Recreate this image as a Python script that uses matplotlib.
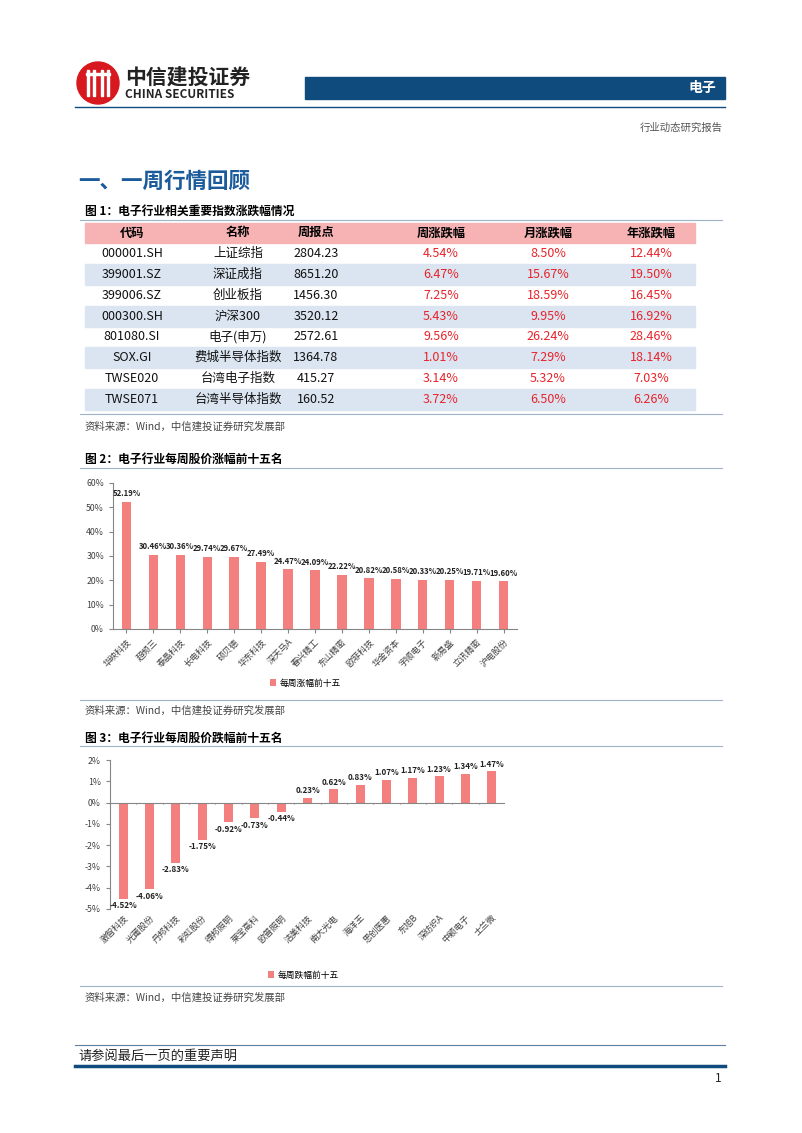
import matplotlib
matplotlib.use('Agg')
import matplotlib.pyplot as plt
from matplotlib.patches import Rectangle, Circle

plt.rcParams['font.family'] = ['Noto Sans CJK SC', 'DejaVu Sans']
plt.rcParams['axes.unicode_minus'] = False

# 表1 数据
codes = ['000001.SH', '399001.SZ', '399006.SZ', '000300.SH', '801080.SI', 'SOX.GI', 'TWSE020', 'TWSE071']
names = ['上证综指', '深证成指', '创业板指', '沪深300', '电子(申万)', '费城半导体指数', '台湾电子指数', '台湾半导体指数']
points = ['2804.23', '8651.20', '1456.30', '3520.12', '2572.61', '1364.78', '415.27', '160.52']
week_chg = ['4.54%', '6.47%', '7.25%', '5.43%', '9.56%', '1.01%', '3.14%', '3.72%']
month_chg = ['8.50%', '15.67%', '18.59%', '9.95%', '26.24%', '7.29%', '5.32%', '6.50%']
year_chg = ['12.44%', '19.50%', '16.45%', '16.92%', '28.46%', '18.14%', '7.03%', '6.26%']
headers = ['代码', '名称', '周报点', '周涨跌幅', '月涨跌幅', '年涨跌幅']

# 图2 涨幅前十五
up_names = ['华映科技', '超频三', '泰晶科技', '长电科技', '硕贝德', '华东科技', '深天马A', '春兴精工',
            '东山精密', '欧菲科技', '华金资本', '宇顺电子', '新易盛', '立讯精密', '沪电股份']
up_vals = [52.19, 30.46, 30.36, 29.74, 29.67, 27.49, 24.47, 24.09, 22.22, 20.82, 20.58, 20.33, 20.25, 19.71, 19.60]

# 图3 跌幅前十五
down_names = ['激智科技', '光莆股份', '丹邦科技', '彩虹股份', '得邦照明', '莱宝高科', '欧普照明', '洁美科技',
              '南大光电', '海洋王', '思创医惠', '东旭B', '深纺织A', '中颖电子', '士兰微']
down_vals = [-4.52, -4.06, -2.83, -1.75, -0.92, -0.73, -0.44, 0.23, 0.62, 0.83, 1.07, 1.17, 1.23, 1.34, 1.47]

W, H = 802, 1133
BLUE = '#0f4c7d'
BAR = '#f47f7f'
RED = '#e8232a'

fig = plt.figure(figsize=(W / 100, H / 100), dpi=100)
page = fig.add_axes([0, 0, 1, 1])
page.set_xlim(0, W)
page.set_ylim(H, 0)
page.axis('off')


def box(x0, y0, x1, y1):
    return [x0 / W, 1 - y1 / H, (x1 - x0) / W, (y1 - y0) / H]


# 页眉
page.add_patch(Circle((98, 83), 21, color='#d7191f'))
for dx in [-10, -4, 4, 10]:
    page.add_patch(Rectangle((98 + dx - 1.2, 70), 2.4, 26, color='white'))
page.add_patch(Rectangle((86, 73), 24, 2.2, color='white'))
page.text(125, 77, '中信建投证券', fontsize=15, fontweight='bold', color='#222222', va='center')
page.text(125, 95, 'CHINA SECURITIES', fontsize=8.5, fontweight='bold', color='#222222', va='center')
page.add_patch(Rectangle((305, 77), 420, 22, color=BLUE))
page.text(716, 88, '电子', fontsize=10, fontweight='bold', color='white', va='center', ha='right')
page.plot([75, 725], [107, 107], color=BLUE, lw=1)
page.text(723, 128, '行业动态研究报告', fontsize=7.5, color='#555555', va='center', ha='right')

page.text(78, 181, '一、一周行情回顾', fontsize=15.5, fontweight='bold', color='#1b5a9b', va='center')

# 图1 表格
page.text(85, 211, '图 1：电子行业相关重要指数涨跌幅情况', fontsize=8.5, fontweight='bold', va='center')
page.plot([80, 722], [220, 220], color='#9fb3c8', lw=0.8)
col_x = [132, 238, 316, 441, 548, 651]
row_h = 20.8
y0 = 222.5
page.add_patch(Rectangle((85, y0), 610, row_h, color='#f7b3b4'))
for cx, h in zip(col_x, headers):
    page.text(cx, y0 + row_h / 2, h, fontsize=8.8, fontweight='bold', ha='center', va='center')
for i in range(len(codes)):
    ry = y0 + row_h * (i + 1)
    if i % 2 == 1:
        page.add_patch(Rectangle((85, ry), 610, row_h, color='#dbe5f1'))
    row = [codes[i], names[i], points[i], week_chg[i], month_chg[i], year_chg[i]]
    for j, (cx, v) in enumerate(zip(col_x, row)):
        page.text(cx, ry + row_h / 2, v, fontsize=9, ha='center', va='center',
                  color=RED if j >= 3 else '#111111')
page.plot([80, 722], [414, 414], color='#9fb3c8', lw=0.8)


def source(y):
    page.text(85, y, '资料来源：Wind，中信建投证券研究发展部', fontsize=7.5, color='#444444',
              style='italic', va='center')


source(427)

# 图2
page.text(85, 459, '图 2：电子行业每周股价涨幅前十五名', fontsize=8.5, fontweight='bold', va='center')
page.plot([80, 722], [468, 468], color='#9fb3c8', lw=0.8)

ax2 = fig.add_axes(box(113, 483, 517, 629))
x = range(len(up_vals))
bars2 = ax2.bar(x, up_vals, width=0.35, color=BAR, label='每周涨幅前十五')
ax2.set_xlim(-0.5, len(up_vals) - 0.5)
ax2.set_ylim(0, 60)
ax2.set_yticks(range(0, 61, 10))
ax2.set_yticklabels([f'{v}%' for v in range(0, 61, 10)])
ax2.set_xticks(list(x))
ax2.set_xticklabels(up_names, rotation=45, ha='right', rotation_mode='anchor')
for b, v in zip(bars2, up_vals):
    ax2.text(b.get_x() + b.get_width() / 2, v + 1.5, f'{v:.2f}%', ha='center', va='bottom',
             fontsize=5.6, fontweight='bold', color='#222222')
fig.legend(handles=[bars2], loc='center', bbox_to_anchor=(305 / W, 1 - 683 / H), frameon=False,
           fontsize=6.3, handlelength=0.7, handleheight=0.7, handletextpad=0.4)

page.plot([80, 722], [700, 700], color='#9fb3c8', lw=0.8)
source(711)

# 图3
page.text(85, 738, '图 3：电子行业每周股价跌幅前十五名', fontsize=8.5, fontweight='bold', va='center')
page.plot([80, 722], [746, 746], color='#9fb3c8', lw=0.8)

ax3 = fig.add_axes(box(110, 760, 505, 909))
x3 = range(len(down_vals))
bars3 = ax3.bar(x3, down_vals, width=0.35, color=BAR, label='每周跌幅前十五')
ax3.set_xlim(-0.5, len(down_vals) - 0.5)
ax3.set_ylim(-5, 2)
ax3.set_yticks(range(-5, 3))
ax3.set_yticklabels([f'{v}%' for v in range(-5, 3)])
ax3.set_xticks(list(x3))
ax3.set_xticklabels(down_names, rotation=45, ha='right', rotation_mode='anchor')
ax3.spines['bottom'].set_visible(False)
ax3.axhline(0, color='#868686', lw=0.8)
ax3.vlines([i - 0.5 for i in range(len(down_vals) + 1)], -0.08, 0, color='#868686', lw=0.8)
for b, v in zip(bars3, down_vals):
    if v >= 0:
        ax3.text(b.get_x() + b.get_width() / 2, v + 0.12, f'{v:.2f}%', ha='center', va='bottom',
                 fontsize=5.8, fontweight='bold', color='#222222')
    else:
        ax3.text(b.get_x() + b.get_width() / 2, v - 0.12, f'{v:.2f}%', ha='center', va='top',
                 fontsize=5.8, fontweight='bold', color='#222222')
fig.legend(handles=[bars3], loc='center', bbox_to_anchor=(303 / W, 1 - 975 / H), frameon=False,
           fontsize=6.3, handlelength=0.7, handleheight=0.7, handletextpad=0.4)

for ax in (ax2, ax3):
    ax.spines['top'].set_visible(False)
    ax.spines['right'].set_visible(False)
    for s in ax.spines.values():
        s.set_color('#868686')
        s.set_linewidth(0.8)
    ax.tick_params(axis='y', labelsize=6.3, colors='#868686', labelcolor='#404040', length=3)
    ax.tick_params(axis='x', labelsize=6.3, length=0, pad=3, labelcolor='#404040')
ax2.tick_params(axis='x', length=3, colors='#868686', labelcolor='#404040')

page.plot([80, 722], [986, 986], color='#9fb3c8', lw=0.8)
source(998)

# 页脚
page.plot([75, 725], [1045, 1045], color='#5f7f9f', lw=0.8)
page.text(78, 1056, '请参阅最后一页的重要声明', fontsize=9.5, color='#222222', va='center')
page.plot([75, 725], [1066, 1066], color=BLUE, lw=2.5)
page.text(722, 1079, '1', fontsize=8.5, ha='right', va='center', color='#222222')

fig.savefig('out.png', dpi=100)
